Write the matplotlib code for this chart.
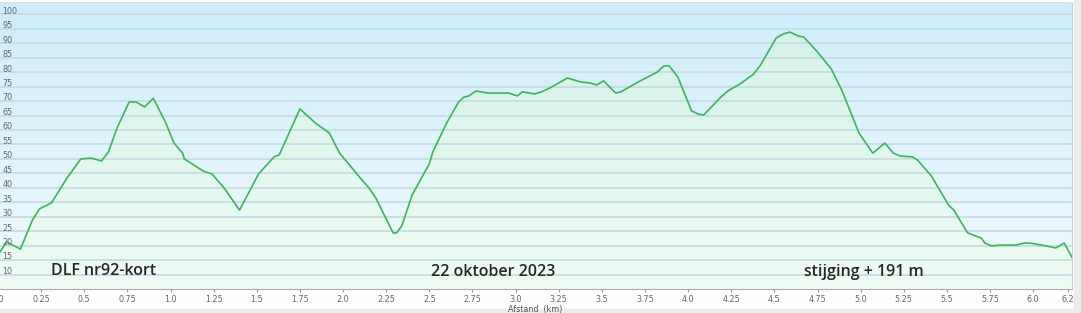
import numpy as np
import matplotlib
matplotlib.use("Agg")
import matplotlib.pyplot as plt
from matplotlib.colors import LinearSegmentedColormap
from matplotlib.patches import Rectangle

afstand = [0.0, 0.05, 0.13, 0.20, 0.24, 0.31, 0.40, 0.48, 0.54, 0.60, 0.64, 0.69,
           0.76, 0.80, 0.85, 0.90, 0.97, 1.02, 1.07, 1.08, 1.19, 1.24, 1.31, 1.40,
           1.51, 1.60, 1.63, 1.75, 1.84, 1.92, 1.98, 2.11, 2.15, 2.19, 2.29, 2.31,
           2.34, 2.40, 2.50, 2.52, 2.60, 2.67, 2.70, 2.73, 2.77, 2.84, 2.90, 2.96,
           3.01, 3.04, 3.11, 3.15, 3.20, 3.30, 3.38, 3.43, 3.47, 3.51, 3.58, 3.61,
           3.71, 3.82, 3.86, 3.89, 3.94, 4.02, 4.06, 4.09, 4.19, 4.23, 4.31, 4.38,
           4.42, 4.51, 4.55, 4.59, 4.64, 4.67, 4.75, 4.83, 4.89, 4.96, 4.99, 5.07,
           5.14, 5.19, 5.23, 5.30, 5.33, 5.41, 5.51, 5.54, 5.62, 5.70, 5.72, 5.76,
           5.81, 5.90, 5.95, 5.98, 6.05, 6.13, 6.18, 6.23]
hoogte = [16.8, 21.3, 18.8, 28.9, 32.7, 34.8, 43.4, 50.0, 50.3, 49.3, 52.4, 60.7,
          69.7, 69.7, 68.0, 71.0, 62.8, 55.5, 52.0, 50.0, 45.8, 44.8, 40.0, 32.3,
          44.8, 50.7, 51.4, 67.3, 62.4, 59.0, 52.0, 42.7, 40.0, 36.5, 24.4, 24.4,
          26.8, 37.5, 48.3, 52.4, 62.4, 69.7, 71.4, 71.8, 73.5, 72.8, 72.8, 72.8,
          71.8, 73.2, 72.5, 73.2, 74.6, 78.0, 76.6, 76.3, 75.6, 77.0, 72.8, 73.2,
          76.6, 80.0, 82.2, 82.2, 78.4, 66.6, 65.5, 65.2, 71.4, 73.5, 76.3, 79.4,
          82.5, 91.8, 93.2, 93.9, 92.5, 92.2, 87.0, 81.1, 73.9, 63.5, 59.0, 52.0,
          55.5, 52.0, 51.0, 50.7, 49.6, 44.1, 34.0, 32.3, 24.4, 22.6, 20.9, 19.9,
          20.2, 20.2, 20.9, 20.9, 20.2, 19.2, 20.9, 15.4]

x_ticks = [0.0, 0.25, 0.5, 0.75, 1.0, 1.25, 1.5, 1.75, 2.0, 2.25, 2.5, 2.75, 3.0,
           3.25, 3.5, 3.75, 4.0, 4.25, 4.5, 4.75, 5.0, 5.25, 5.5, 5.75, 6.0, 6.2]
x_labels = ["0.0", "0.25", "0.5", "0.75", "1.0", "1.25", "1.5", "1.75", "2.0",
            "2.25", "2.5", "2.75", "3.0", "3.25", "3.5", "3.75", "4.0", "4.25",
            "4.5", "4.75", "5.0", "5.25", "5.5", "5.75", "6.0", "6.2"]
y_ticks = list(range(10, 101, 5))

titel = "DLF nr92-kort"
datum = "22 oktober 2023"
stijging = "stijging + 191 m"

W, H = 1081, 313
fig = plt.figure(figsize=(W / 100, H / 100), dpi=100, facecolor="white")

# grijze randen rechts en onder
fig.patches.append(Rectangle((1074 / W, 0), 1, 1, transform=fig.transFigure,
                             color="#ececec", zorder=-1))
fig.patches.append(Rectangle((0, 0), 1, 4 / H, transform=fig.transFigure,
                             color="#ececec", zorder=-1))

left, right = -2, 1072
bottom, top = 289, 2
ax = fig.add_axes([left / W, (H - bottom) / H, (right - left) / W, (bottom - top) / H])

xmin, xmax = 0.0, 6.225
ymin, ymax = 5, 104.3
ax.set_xlim(xmin, xmax)
ax.set_ylim(ymin, ymax)

# achtergrond verloop
bg = LinearSegmentedColormap.from_list("bg", ["#f1fafd", "#cdedfa"])
grad = np.linspace(0, 1, 256).reshape(-1, 1)
ax.imshow(grad, extent=[xmin, xmax, ymin, ymax], origin="lower", aspect="auto",
          cmap=bg, zorder=0)

# vulling onder de lijn
fillmap = LinearSegmentedColormap.from_list("fill", ["#effcf3", "#d4f3ea"])
poly = ax.fill_between(afstand, hoogte, ymin, color="none", zorder=1)
img = ax.imshow(grad, extent=[xmin, xmax, ymin, 95], origin="lower", aspect="auto",
                cmap=fillmap, zorder=1)
img.set_clip_path(poly.get_paths()[0], transform=ax.transData)

ax.set_yticks(y_ticks)
ax.yaxis.grid(True, color="#c8dce4", linewidth=1.3, zorder=2)
ax.set_axisbelow(False)
ax.tick_params(axis="y", left=False, labelleft=False)

for v in y_ticks:
    ax.text(0.004, v + 1.1, str(v), transform=ax.get_yaxis_transform(),
            fontsize=5.8, color="#666666", ha="left", va="center", zorder=4)

ax.plot(afstand, hoogte, color="#3bb55a", linewidth=1.2, zorder=3)

ax.set_xticks(x_ticks)
ax.set_xticklabels(x_labels)
ax.tick_params(axis="x", length=2, width=0.8, color="#999999", labelsize=5.8,
               labelcolor="#666666", pad=2)
ax.set_xlabel("Afstand  (km)", fontsize=5.8, color="#555555", labelpad=1)

ax.spines["left"].set_visible(False)
ax.spines["bottom"].set_color("#aaaaaa")
ax.spines["top"].set_color("#dddddd")
ax.spines["right"].set_color("#cccccc")

tekst = dict(fontsize=11.5, color="#262626", family=["Open Sans", "DejaVu Sans"],
             fontweight="semibold", ha="center", va="center", zorder=5)
ax.text(0.61, 11.2, titel, **tekst)
ax.text(2.87, 11.0, datum, **tekst)
ax.text(5.02, 11.0, stijging, **tekst)

fig.savefig("out.png", dpi=100)
